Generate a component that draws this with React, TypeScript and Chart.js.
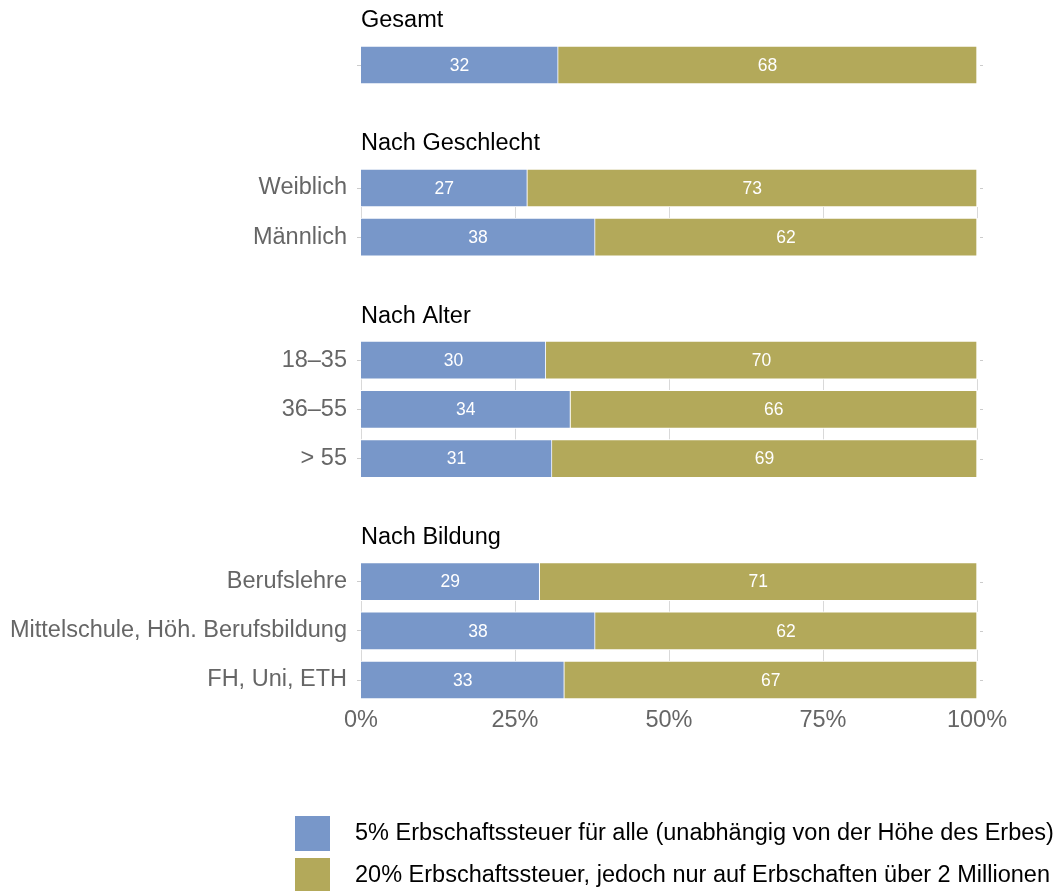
import React, { useEffect, useRef } from 'react';
import { Chart, registerables } from 'chart.js';

Chart.register(...registerables);

const groupTitles = ['Gesamt', 'Nach Geschlecht', 'Nach Alter', 'Nach Bildung'];
const categories = ['', 'Weiblich', 'Männlich', '18–35', '36–55', '> 55', 'Berufslehre', 'Mittelschule, Höh. Berufsbildung', 'FH, Uni, ETH'];
const categoryGroup = [0, 1, 1, 2, 2, 2, 3, 3, 3];
const share5 = [32, 27, 38, 30, 34, 31, 29, 38, 33];
const share20 = [68, 73, 62, 70, 66, 69, 71, 62, 67];
const xTickValues = [0, 25, 50, 75, 100];
const legendLabels = [
  '5% Erbschaftssteuer für alle (unabhängig von der Höhe des Erbes)',
  '20% Erbschaftssteuer, jedoch nur auf Erbschaften über 2 Millionen',
];
const seriesColors = ['#7897c9', '#b3a95a'];

const FONT = '"Liberation Sans", Arial, Helvetica, sans-serif';
const TEXT_SIZE = 23.5;

// slot index for each category (within group step 2, between groups step 5)
const slots: number[] = [];
categoryGroup.forEach((g, i) => {
  if (i === 0) slots.push(0);
  else slots.push(slots[i - 1] + (g === categoryGroup[i - 1] ? 2 : 5));
});

export default function App() {
  const ref = useRef<HTMLCanvasElement | null>(null);

  useEffect(() => {
    if (!ref.current) return;
    const annot = {
      id: 'annot',
      beforeDatasetsDraw(chart: any) {
        const { ctx } = chart;
        const xs = chart.scales.x;
        const ys = chart.scales.y;
        ctx.save();
        ctx.strokeStyle = '#d9d9d9';
        ctx.lineWidth = 1;
        for (let i = 1; i < categoryGroup.length; i++) {
          if (categoryGroup[i] !== categoryGroup[i - 1]) continue;
          const top = ys.getPixelForValue(slots[i - 1]) + 19;
          const bot = ys.getPixelForValue(slots[i]) - 19;
          xTickValues.forEach((v) => {
            const x = Math.round(xs.getPixelForValue(v)) + 0.5;
            ctx.beginPath();
            ctx.moveTo(x, top);
            ctx.lineTo(x, bot);
            ctx.stroke();
          });
        }
        ctx.restore();
      },
      afterDatasetsDraw(chart: any) {
        const { ctx, chartArea } = chart;
        const ys = chart.scales.y;
        ctx.save();
        // value labels
        ctx.fillStyle = '#ffffff';
        ctx.font = `17.5px ${FONT}`;
        ctx.textAlign = 'center';
        ctx.textBaseline = 'middle';
        chart.data.datasets.forEach((ds: any, di: number) => {
          const meta = chart.getDatasetMeta(di);
          meta.data.forEach((el: any, i: number) => {
            const v = ds.data[i].x;
            ctx.fillText(String(v), (el.x + el.base) / 2, el.y + 1);
          });
        });
        // right-side small ticks
        ctx.strokeStyle = '#cccccc';
        ctx.lineWidth = 1;
        slots.forEach((s) => {
          const y = Math.round(ys.getPixelForValue(s)) + 0.5;
          ctx.beginPath();
          ctx.moveTo(chartArea.right + 3, y);
          ctx.lineTo(chartArea.right + 6, y);
          ctx.stroke();
        });
        // group headers
        ctx.fillStyle = '#000000';
        ctx.font = `${TEXT_SIZE}px ${FONT}`;
        ctx.textAlign = 'left';
        groupTitles.forEach((t, g) => {
          const i = categoryGroup.indexOf(g);
          const y = ys.getPixelForValue(slots[i]) - 44;
          ctx.fillText(t, chartArea.left, y);
        });
        // legend
        legendLabels.forEach((t, i) => {
          const top = 816 + i * 42;
          ctx.fillStyle = seriesColors[i];
          ctx.fillRect(295, top, 35, 35);
          ctx.fillStyle = '#000000';
          ctx.fillText(t, 355, top + 18);
        });
        ctx.restore();
      },
    };

    const chart = new Chart(ref.current, {
      type: 'bar',
      data: {
        datasets: [
          {
            label: legendLabels[0],
            data: share5.map((v, i) => ({ x: v, y: slots[i] })),
            backgroundColor: seriesColors[0],
            borderColor: '#ffffff',
            borderWidth: 1,
            barThickness: 38,
          },
          {
            label: legendLabels[1],
            data: share20.map((v, i) => ({ x: v, y: slots[i] })),
            backgroundColor: seriesColors[1],
            borderColor: '#ffffff',
            borderWidth: 1,
            barThickness: 38,
          },
        ],
      },
      plugins: [annot],
      options: {
        indexAxis: 'y',
        animation: false,
        responsive: false,
        devicePixelRatio: 1,
        layout: { padding: { left: 0, right: 77, top: 40.4, bottom: 146.4 } },
        plugins: { legend: { display: false }, tooltip: { enabled: false } },
        scales: {
          x: {
            type: 'linear',
            stacked: true,
            min: 0,
            max: 100,
            offset: false,
            border: { display: false },
            grid: { display: false, drawTicks: false },
            afterBuildTicks: (scale: any) => {
              scale.ticks = xTickValues.map((v) => ({ value: v }));
            },
            afterFit: (scale: any) => {
              scale.height = 40;
              scale.paddingLeft = 0;
              scale.paddingRight = 0;
            },
            ticks: {
              autoSkip: false,
              padding: 2,
              color: '#666666',
              font: { family: FONT, size: TEXT_SIZE },
              callback: (v: any) => `${v}%`,
            },
          },
          y: {
            type: 'linear',
            stacked: true,
            reverse: true,
            offset: false,
            min: -1,
            max: slots[slots.length - 1] + 1,
            border: { display: false },
            grid: { offset: false, drawOnChartArea: false, drawTicks: true, tickLength: 4, color: '#cccccc' },
            afterBuildTicks: (scale: any) => {
              scale.ticks = slots.map((v) => ({ value: v }));
            },
            afterFit: (scale: any) => {
              scale.width = 361;
              scale.paddingTop = 0;
              scale.paddingBottom = 0;
            },
            ticks: {
              autoSkip: false,
              padding: 10,
              color: '#666666',
              font: { family: FONT, size: TEXT_SIZE },
              callback: (v: any) => {
                const i = slots.indexOf(Number(v));
                return i >= 0 ? categories[i] : '';
              },
            },
          },
        },
      },
    });
    return () => chart.destroy();
  }, []);

  return (
    <div style={{ position: 'absolute', left: 0, top: 0, width: 1054, height: 891, background: '#fff' }}>
      <canvas ref={ref} width={1054} height={891} style={{ display: 'block' }} />
    </div>
  );
}
